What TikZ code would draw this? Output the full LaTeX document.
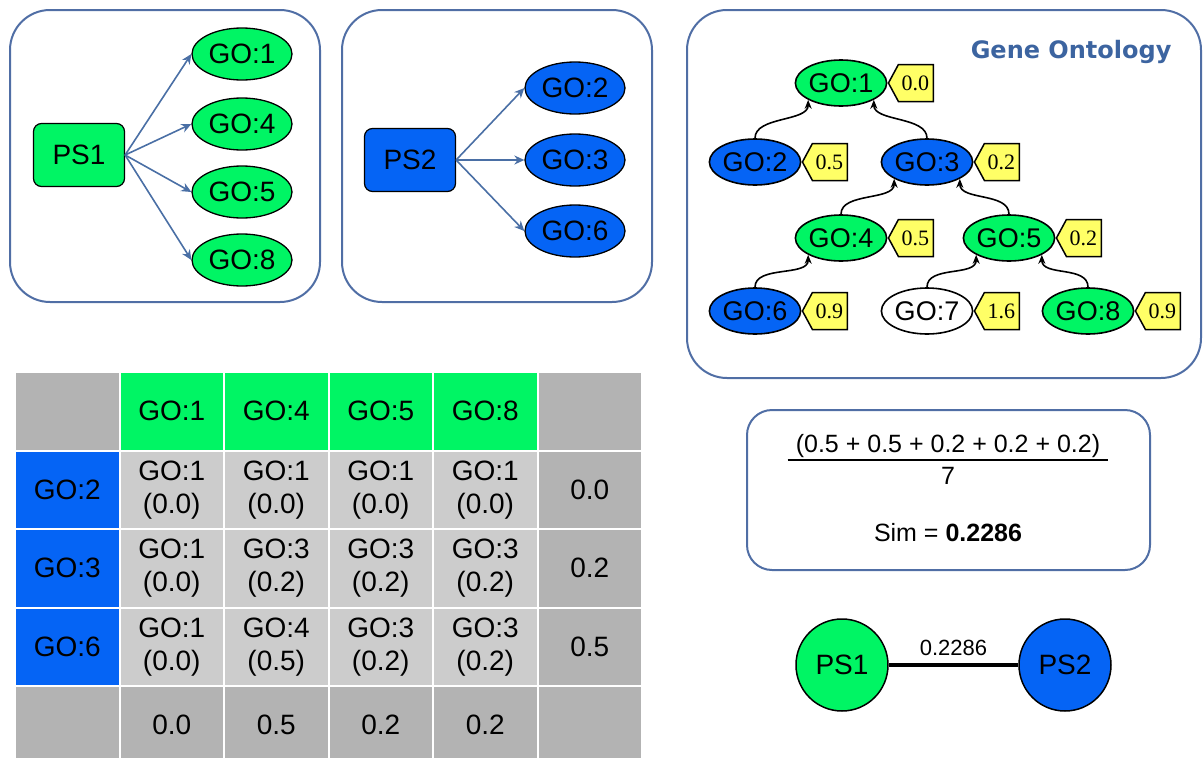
\documentclass[tikz,border=0pt]{standalone}
\usepackage{fontspec}
\setmainfont{Liberation Sans}
\newfontfamily\tagfont{Liberation Serif}
\newfontfamily\headfont{DejaVu Sans}
\usetikzlibrary{shapes.geometric,arrows.meta,calc}

\definecolor{gogreen}{RGB}{0,245,100}
\definecolor{goblue}{RGB}{5,100,245}
\definecolor{panelline}{RGB}{80,110,165}
\definecolor{arrowline}{RGB}{74,111,165}
\definecolor{tagyellow}{RGB}{255,255,102}
\definecolor{greydark}{RGB}{179,179,179}
\definecolor{greylight}{RGB}{204,204,204}
\definecolor{titleblue}{RGB}{60,100,160}

\newcommand\fsBig{\fontsize{28}{33}\selectfont}
\newcommand\fsTree{\fontsize{27}{30}\selectfont}
\newcommand\fsForm{\fontsize{25}{30}\selectfont}
\newcommand\fsSmall{\fontsize{22}{26}\selectfont}

% yellow arrow-shaped value tag on the right of a tree term
\newcommand\gotag[3]{%
  \path[tagshape] ($(#2.east)+(1,0)$) -- ++(10,-18.5) -- ++(35,0) -- ++(0,37) -- ++(-35,0) -- cycle;
  \node[tagtext] (#1) at ($(#2.east)+(28,0)$) {#3};
}

\begin{document}
\begin{tikzpicture}[x=1pt,y=-1pt,
  panel/.style={draw=panelline, line width=2pt, rounded corners=40pt, inner sep=0pt},
  psbox/.style={draw=black, line width=1.2pt, rounded corners=8pt, inner sep=0pt,
                minimum width=91pt, minimum height=63pt, font=\fsBig},
  goell/.style={ellipse, draw=black, line width=1.3pt, inner sep=0pt,
                minimum width=100pt, minimum height=52pt, font=\fsBig},
  treeell/.style={ellipse, draw=black, line width=1.6pt, inner sep=0pt,
                minimum width=82pt, minimum height=46pt, font=\fsTree},
  annot/.style={draw=arrowline, line width=1.6pt, -{Stealth[length=10pt,width=9pt]}},
  treeedge/.style={draw=black, line width=1.6pt, -{Stealth[length=9pt,width=7pt]}},
  tagshape/.style={fill=tagyellow, draw=black, line width=1.5pt, line join=miter},
  tagtext/.style={inner sep=0pt, font=\tagfont\fontsize{22}{24}\selectfont},
  cell/.style={rectangle, draw=white, line width=2pt, inner sep=0pt, align=center,
               minimum width=104.5pt, minimum height=78.5pt, font=\fsBig},
  psdot/.style={circle, draw=black, line width=1.5pt, minimum size=92pt, inner sep=0pt, font=\fsBig}
]
\useasboundingbox (0,0) rectangle (1203,758);
\clip (0,0) rectangle (1203,758);

% ---------- protein PS1 and its annotations ----------
\node[panel, minimum width=310pt, minimum height=292pt] (pan1) at (165,156) {};
\node[psbox, fill=gogreen] (ps1) at (79,155) {PS1};
\node[goell, fill=gogreen] (a1) at (242,54) {GO:1};
\node[goell, fill=gogreen] (a4) at (242,124) {GO:4};
\node[goell, fill=gogreen] (a5) at (242,192) {GO:5};
\node[goell, fill=gogreen] (a8) at (242,260) {GO:8};
\foreach \t in {a1,a4,a5,a8} \draw[annot] (ps1.east) -- (\t.west);

% ---------- protein PS2 and its annotations ----------
\node[panel, minimum width=310pt, minimum height=292pt] (pan2) at (497,156) {};
\node[psbox, fill=goblue] (ps2) at (410,160) {PS2};
\node[goell, fill=goblue] (b2) at (575,88) {GO:2};
\node[goell, fill=goblue] (b3) at (575,160) {GO:3};
\node[goell, fill=goblue] (b6) at (575,231) {GO:6};
\foreach \t in {b2,b3,b6} \draw[annot] (ps2.east) -- (\t.west);

% ---------- ontology tree ----------
\node[panel, minimum width=514pt, minimum height=368pt] (pan3) at (944,194) {};
\node[anchor=east, font=\headfont\bfseries\fontsize{24}{28}\selectfont, text=titleblue] (title) at (1175,52) {Gene Ontology};

\node[treeell, fill=gogreen] (g1) at (841,83) {GO:1};
\node[treeell, fill=goblue]  (g2) at (755,162) {GO:2};
\node[treeell, fill=goblue]  (g3) at (927,162) {GO:3};
\node[treeell, fill=gogreen] (g4) at (841,238) {GO:4};
\node[treeell, fill=gogreen] (g5) at (1009,238) {GO:5};
\node[treeell, fill=goblue]  (g6) at (755,311) {GO:6};
\node[treeell, fill=white]   (g7) at (927,311) {GO:7};
\node[treeell, fill=gogreen] (g8) at (1088,311) {GO:8};

\draw[treeedge] (g2.north) .. controls +(0,-22) and +(0,22) .. (g1.south west);
\draw[treeedge] (g3.north) .. controls +(0,-22) and +(0,22) .. (g1.south east);
\draw[treeedge] (g4.north) .. controls +(0,-22) and +(0,22) .. (g3.south west);
\draw[treeedge] (g5.north) .. controls +(0,-22) and +(0,22) .. (g3.south east);
\draw[treeedge] (g6.north) .. controls +(0,-22) and +(0,22) .. (g4.south west);
\draw[treeedge] (g7.north) .. controls +(0,-22) and +(0,22) .. (g5.south west);
\draw[treeedge] (g8.north) .. controls +(0,-22) and +(0,22) .. (g5.south east);

\gotag{v1}{g1}{0.0}
\gotag{v2}{g2}{0.5}
\gotag{v3}{g3}{0.2}
\gotag{v4}{g4}{0.5}
\gotag{v5}{g5}{0.2}
\gotag{v6}{g6}{0.9}
\gotag{v7}{g7}{1.6}
\gotag{v8}{g8}{0.9}

% ---------- best-match table ----------
\node[cell, fill=greydark] (t00) at (67.25,411.25) {};
\node[cell, fill=gogreen] (t01) at (171.75,411.25) {GO:1};
\node[cell, fill=gogreen] (t02) at (276.25,411.25) {GO:4};
\node[cell, fill=gogreen] (t03) at (380.75,411.25) {GO:5};
\node[cell, fill=gogreen] (t04) at (485.25,411.25) {GO:8};
\node[cell, fill=greydark] (t05) at (589.75,411.25) {};

\node[cell, fill=goblue] (t10) at (67.25,489.75) {GO:2};
\node[cell, fill=greylight] (t11) at (171.75,489.75) {GO:1\\(0.0)};
\node[cell, fill=greylight] (t12) at (276.25,489.75) {GO:1\\(0.0)};
\node[cell, fill=greylight] (t13) at (380.75,489.75) {GO:1\\(0.0)};
\node[cell, fill=greylight] (t14) at (485.25,489.75) {GO:1\\(0.0)};
\node[cell, fill=greydark] (t15) at (589.75,489.75) {0.0};

\node[cell, fill=goblue] (t20) at (67.25,568.25) {GO:3};
\node[cell, fill=greylight] (t21) at (171.75,568.25) {GO:1\\(0.0)};
\node[cell, fill=greylight] (t22) at (276.25,568.25) {GO:3\\(0.2)};
\node[cell, fill=greylight] (t23) at (380.75,568.25) {GO:3\\(0.2)};
\node[cell, fill=greylight] (t24) at (485.25,568.25) {GO:3\\(0.2)};
\node[cell, fill=greydark] (t25) at (589.75,568.25) {0.2};

\node[cell, fill=goblue] (t30) at (67.25,646.75) {GO:6};
\node[cell, fill=greylight] (t31) at (171.75,646.75) {GO:1\\(0.0)};
\node[cell, fill=greylight] (t32) at (276.25,646.75) {GO:4\\(0.5)};
\node[cell, fill=greylight] (t33) at (380.75,646.75) {GO:3\\(0.2)};
\node[cell, fill=greylight] (t34) at (485.25,646.75) {GO:3\\(0.2)};
\node[cell, fill=greydark] (t35) at (589.75,646.75) {0.5};

\node[cell, fill=greydark] (t40) at (67.25,725.25) {};
\node[cell, fill=greydark] (t41) at (171.75,725.25) {0.0};
\node[cell, fill=greydark] (t42) at (276.25,725.25) {0.5};
\node[cell, fill=greydark] (t43) at (380.75,725.25) {0.2};
\node[cell, fill=greydark] (t44) at (485.25,725.25) {0.2};
\node[cell, fill=greydark] (t45) at (589.75,725.25) {};

% ---------- similarity score ----------
\node[draw=panelline, line width=2pt, rounded corners=25pt, minimum width=403pt, minimum height=160pt] (simbox) at (948.5,490) {};
\node[font=\fsForm, inner xsep=8pt, inner ysep=2pt] (num) at (948,446) {(0.5 + 0.5 + 0.2 + 0.2 + 0.2)};
\draw[line width=1.5pt] (num.south west) -- (num.south east);
\node[font=\fsForm] (den) at (948,476) {7};
\node[font=\fsForm] (sim) at (948,533) {Sim = \textbf{0.2286}};

% ---------- resulting network edge ----------
\node[psdot, fill=gogreen] (n1) at (842,665) {PS1};
\node[psdot, fill=goblue] (n2) at (1065,665) {PS2};
\draw[line width=4pt] (n1) -- node[above=4pt, font=\fsSmall] (w) {0.2286} (n2);
\end{tikzpicture}
\end{document}
